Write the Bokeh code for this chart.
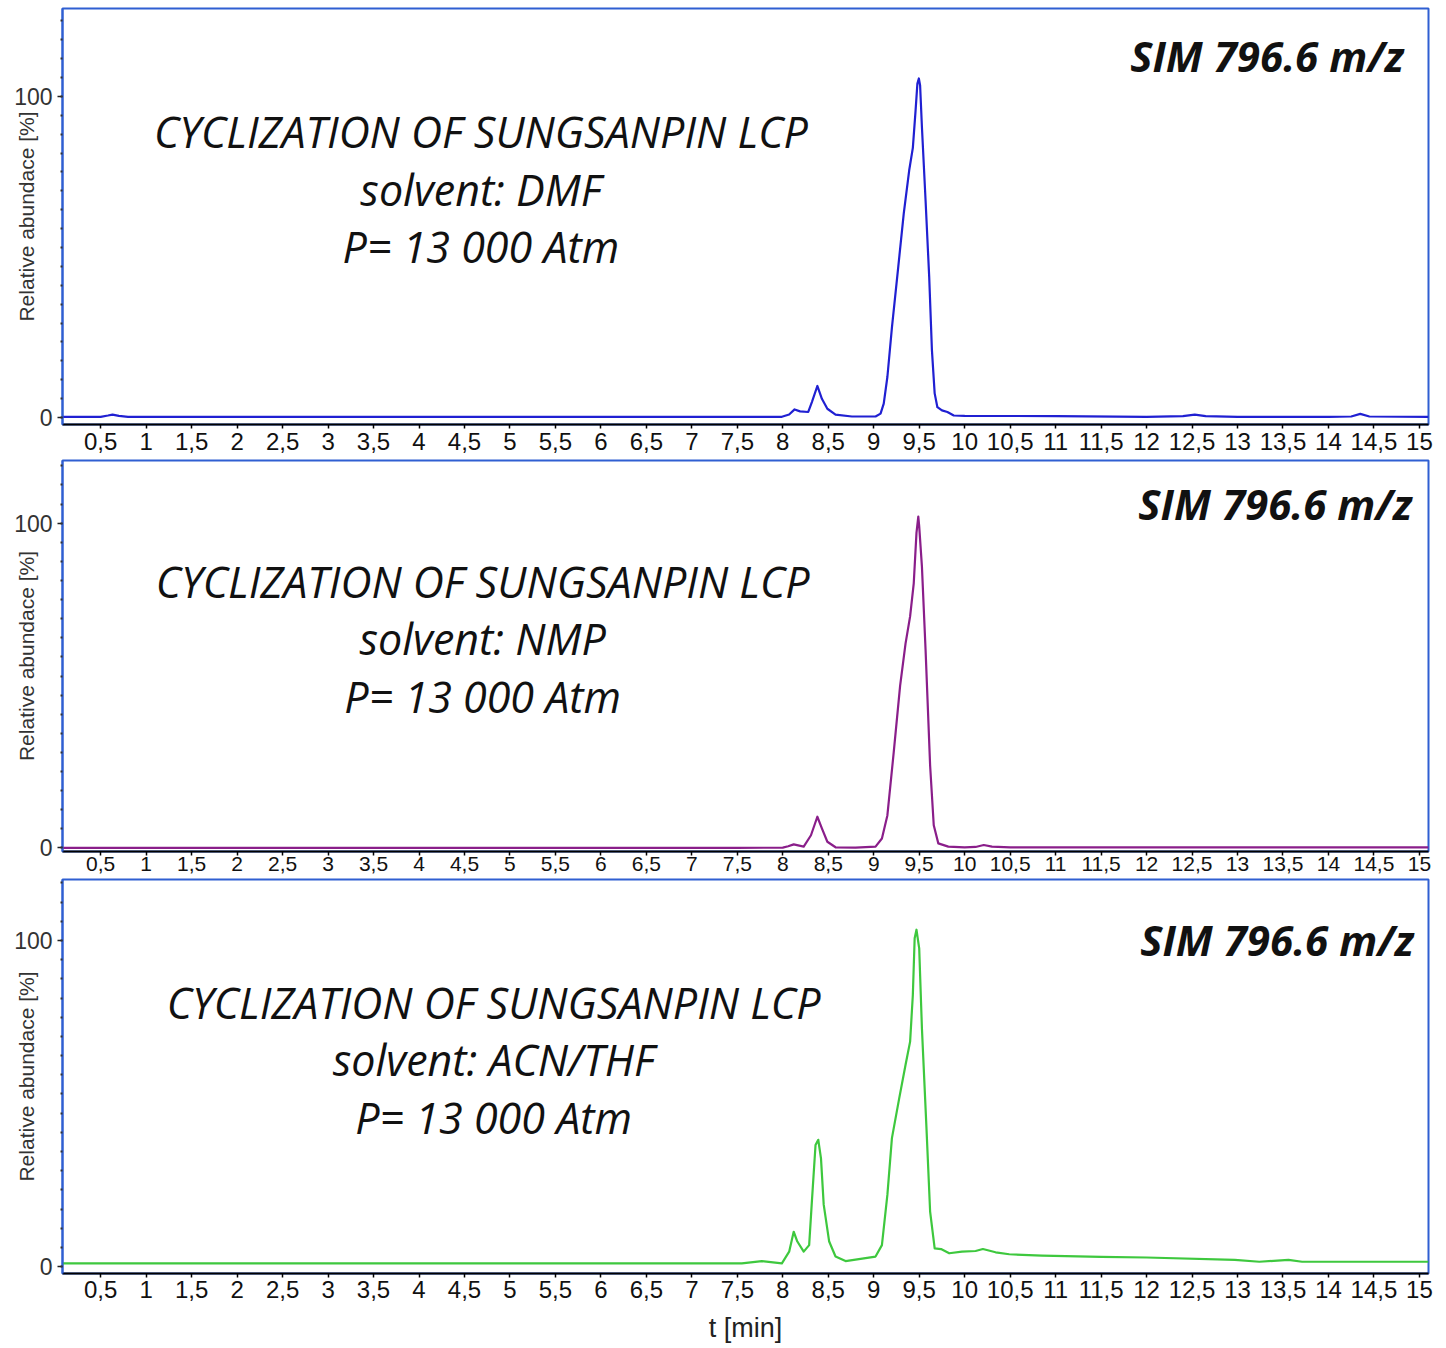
from bokeh.plotting import figure
from bokeh.models import Range1d, FixedTicker, Label
from bokeh.layouts import column
from bokeh.embed import file_html
from bokeh.resources import INLINE

# ---------------- data ----------------
t_dmf = [0.08, 0.50, 0.58, 0.63, 0.70, 0.80, 2.0, 4.0, 6.0, 7.5,
         7.99, 8.07, 8.13, 8.19, 8.28, 8.32, 8.38, 8.43, 8.49, 8.58, 8.76,
         9.02, 9.075, 9.11, 9.15, 9.20, 9.27, 9.33, 9.39, 9.43, 9.46, 9.48, 9.496, 9.51,
         9.53, 9.57, 9.61, 9.64, 9.67, 9.70, 9.75, 9.81, 9.88,
         10.0, 11.0, 12.0, 12.4, 12.53, 12.65, 13.0, 14.0, 14.25, 14.35, 14.45, 15.1]
y_dmf = [0.2, 0.2, 0.6, 0.9, 0.5, 0.2, 0.2, 0.2, 0.2, 0.2,
         0.2, 0.9, 2.5, 1.9, 1.7, 4.8, 9.8, 5.8, 2.7, 0.9, 0.3,
         0.3, 1.2, 4.3, 12.6, 28.0, 47.0, 63.5, 77.0, 84.0, 95.6, 104.0, 105.6, 103.4,
         90.4, 67.6, 43.7, 20.9, 7.5, 3.2, 2.2, 1.7, 0.6,
         0.5, 0.4, 0.2, 0.4, 0.9, 0.4, 0.2, 0.2, 0.3, 1.1, 0.3, 0.2]

t_nmp = [0.08, 2.0, 4.0, 6.0, 7.5,
         8.00, 8.06, 8.12, 8.23, 8.31, 8.38, 8.43, 8.49, 8.58, 8.80,
         9.02, 9.09, 9.15, 9.22, 9.29, 9.35, 9.40, 9.44, 9.47, 9.49, 9.50, 9.53, 9.57,
         9.62, 9.66, 9.71, 9.82, 10.0,
         10.12, 10.21, 10.30, 10.50, 12.0, 14.0, 15.1]
y_nmp = [0.0, 0.0, 0.0, 0.0, 0.0,
         0.1, 0.5, 1.1, 0.4, 3.9, 9.6, 6.0, 1.9, 0.2, 0.1,
         0.4, 2.9, 10.0, 29.5, 49.9, 63.0, 71.3, 81.5, 97.0, 102.0, 99.0, 86.6, 61.0,
         25.4, 7.0, 1.4, 0.4, 0.2,
         0.3, 0.9, 0.4, 0.2, 0.2, 0.2, 0.2]

t_acn = [0.08, 2.0, 4.0, 6.0, 7.0, 7.55, 7.77, 7.99,
         8.07, 8.12, 8.16, 8.23, 8.29, 8.32, 8.36, 8.39, 8.42, 8.45, 8.51, 8.58, 8.69,
         9.02, 9.09, 9.15, 9.20, 9.28, 9.35, 9.40, 9.43, 9.45, 9.47, 9.50, 9.53, 9.58,
         9.62, 9.67, 9.74, 9.83, 9.97,
         10.12, 10.20, 10.34, 10.49, 10.85, 11.5, 12.0, 12.97, 13.24, 13.56, 13.71, 14.5, 15.1]
y_acn = [1.0, 1.0, 1.0, 1.0, 1.0, 1.0, 1.7, 1.0,
         4.6, 10.7, 7.7, 4.6, 6.6, 20.0, 37.3, 38.9, 33.2, 19.0, 7.7, 3.1, 1.7,
         3.1, 6.6, 22.0, 39.4, 51.6, 61.9, 69.0, 83.3, 100.7, 103.3, 97.6, 73.0, 42.4,
         16.9, 5.6, 5.4, 4.1, 4.6,
         4.8, 5.4, 4.4, 3.8, 3.4, 3.0, 2.8, 2.1, 1.5, 2.1, 1.5, 1.5, 1.5]

x_ticks = [0.5, 1, 1.5, 2, 2.5, 3, 3.5, 4, 4.5, 5, 5.5, 6, 6.5, 7, 7.5, 8, 8.5, 9, 9.5, 10,
           10.5, 11, 11.5, 12, 12.5, 13, 13.5, 14, 14.5, 15]
x_tick_labels = ["0,5", "1", "1,5", "2", "2,5", "3", "3,5", "4", "4,5", "5", "5,5", "6", "6,5",
                 "7", "7,5", "8", "8,5", "9", "9,5", "10", "10,5", "11", "11,5", "12", "12,5",
                 "13", "13,5", "14", "14,5", "15"]
y_ticks = [0, 100]
y_tick_labels = ["0", "100"]

title_line = "CYCLIZATION OF SUNGSANPIN LCP"
solvents = ["solvent: DMF", "solvent: NMP", "solvent: ACN/THF"]
pressure = "P= 13 000 Atm"
sim_text = "SIM 796.6 m/z"
y_title = "Relative abundace [%]"
x_title = "t [min]"

# ---------------- styling ----------------
FRAME_BLUE = "#2f5fd2"
colors = ["#2020d2", "#8a1e8a", "#3ec83e"]


def make_panel(t, y, color, solvent, yr, frame_h, top, bottom, text_pos, sim_pos,
               tick_font, tick_standoff, show_xlabel):
    p = figure(width=1446, height=top + frame_h + bottom,
               x_range=Range1d(0.08, 15.1), y_range=Range1d(*yr),
               output_backend="svg", toolbar_location=None,
               min_border_left=62, min_border_right=18,
               min_border_top=top, min_border_bottom=bottom)
    p.outline_line_color = FRAME_BLUE
    p.outline_line_width = 2
    p.xgrid.visible = False
    p.ygrid.visible = False
    p.background_fill_color = "white"
    p.border_fill_color = "white"

    p.line(t, y, line_color=color, line_width=2.2, line_join="round")

    # x axis
    xa = p.xaxis[0]
    xa.ticker = FixedTicker(ticks=x_ticks)
    xa.major_label_overrides = {k: v for k, v in zip(x_ticks, x_tick_labels)}
    xa.axis_line_color = "black"
    xa.axis_line_width = 2
    xa.major_tick_in = 0
    xa.major_tick_out = 4
    xa.major_tick_line_color = "black"
    xa.major_tick_line_width = 1.5
    xa.minor_tick_line_color = None
    xa.major_label_standoff = tick_standoff
    xa.major_label_text_font = "Liberation Sans"
    xa.major_label_text_font_size = tick_font
    xa.major_label_text_color = "#111111"
    if show_xlabel:
        xa.axis_label = x_title
        xa.axis_label_text_font = "Liberation Sans"
        xa.axis_label_text_font_style = "normal"
        xa.axis_label_text_font_size = "27px"
        xa.axis_label_text_color = "#222222"
        xa.axis_label_standoff = 12

    # y axis
    ya = p.yaxis[0]
    ya.ticker = FixedTicker(ticks=y_ticks,
                            minor_ticks=[i * 100 / 17 for i in range(-1, 23)])
    ya.major_label_overrides = {k: v for k, v in zip(y_ticks, y_tick_labels)}
    ya.axis_line_color = FRAME_BLUE
    ya.axis_line_width = 2
    ya.major_tick_in = 0
    ya.major_tick_out = 5
    ya.major_tick_line_color = "#222222"
    ya.major_tick_line_width = 1.5
    ya.minor_tick_in = 0
    ya.minor_tick_out = 2
    ya.minor_tick_line_color = "#333333"
    ya.minor_tick_line_width = 2
    ya.major_label_standoff = 5
    ya.major_label_text_font = "Liberation Sans"
    ya.major_label_text_font_size = "23px"
    ya.major_label_text_color = "#333333"
    ya.axis_label = y_title
    ya.axis_label_text_font = "Liberation Sans"
    ya.axis_label_text_font_style = "normal"
    ya.axis_label_text_font_size = "21px"
    ya.axis_label_text_color = "#333333"
    ya.axis_label_standoff = -27

    cx, ys = text_pos
    for txt, yy in zip([title_line, solvent, pressure], ys):
        p.add_layout(Label(x=cx, y=yy, text=txt, text_align="center",
                           text_baseline="middle", text_font="Open Sans",
                           text_font_style="italic", text_font_size="43px",
                           text_color="#111111"))
    p.add_layout(Label(x=sim_pos[0], y=sim_pos[1], text=sim_text, text_align="right",
                       text_baseline="middle", text_font="Open Sans",
                       text_font_style="bold italic", text_font_size="42px",
                       text_color="#111111"))
    return p


p1 = make_panel(t_dmf, y_dmf, colors[0], solvents[0], (-2.2, 127.4), 416, 8, 35,
                (4.68, [89.0, 71.0, 53.3]), (14.83, 112.8), "24px", 4, False)
p2 = make_panel(t_nmp, y_nmp, colors[1], solvents[1], (-1.1, 119.3), 391, 1, 26,
                (4.70, [81.9, 64.5, 46.7]), (14.92, 106.1), "21px", 1, False)
p3 = make_panel(t_acn, y_acn, colors[2], solvents[2], (-2.1, 118.7), 394, 2, 75,
                (4.82, [81.0, 63.5, 45.7]), (14.94, 100.3), "24px", 3, True)

layout = column(p1, p2, p3, spacing=0)
open("out.html", "w").write(file_html(layout, INLINE))
